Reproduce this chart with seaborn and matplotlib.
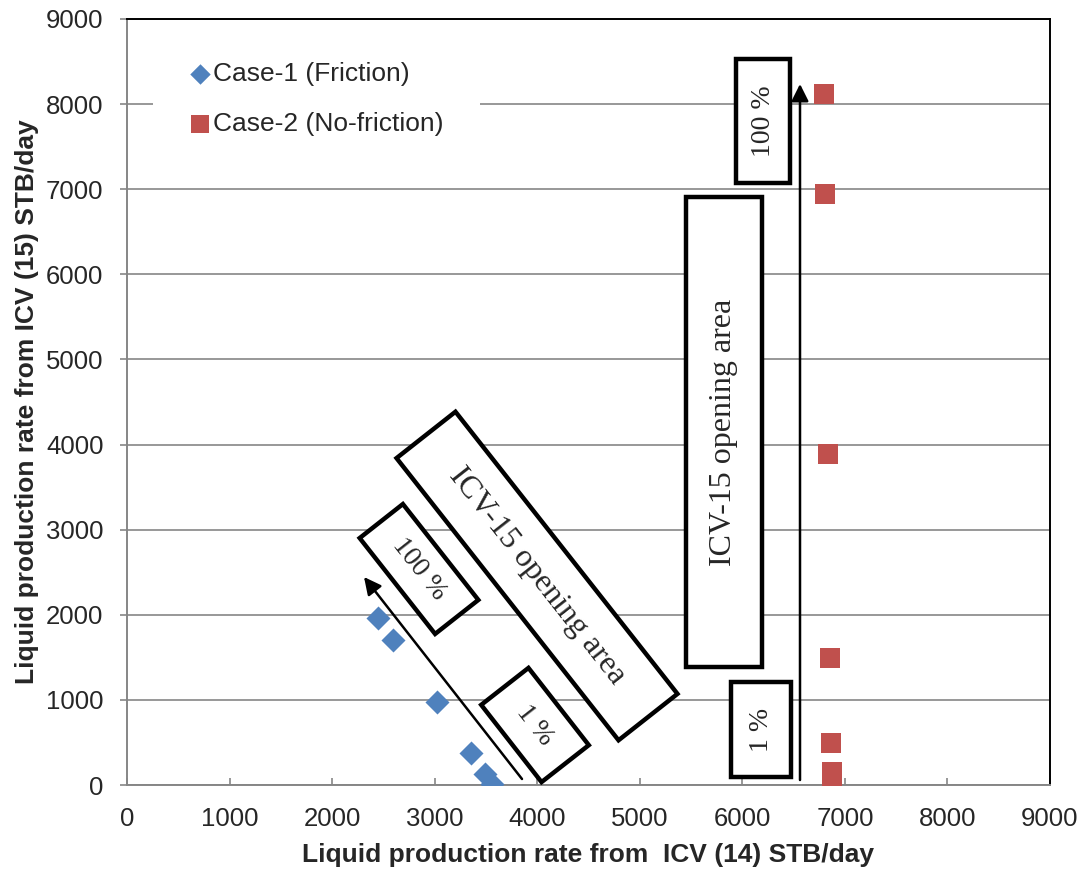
import matplotlib
matplotlib.use('Agg')
import matplotlib.pyplot as plt
import seaborn as sns
import pandas as pd
import numpy as np
from matplotlib.patches import Polygon

# ---- data ----
case1_x = [2446, 2593, 3021, 3353, 3489, 3557]
case1_y = [1962, 1704, 975, 376, 129, 12]
case2_x = [6793, 6803, 6832, 6852, 6862, 6871, 6871]
case2_y = [8120, 6945, 3890, 1492, 494, 153, 0]
case1_label = "Case-1 (Friction)"
case2_label = "Case-2 (No-friction)"
x_ticks = list(range(0, 10000, 1000))
y_ticks = list(range(0, 10000, 1000))
xlabel = "Liquid production rate from  ICV (14) STB/day"
ylabel = "Liquid production rate from ICV (15) STB/day"

BLUE = "#4F81BD"
RED = "#C0504D"
GRID = "#868686"

sns.set_theme(style="white")
plt.rcParams['font.family'] = ['Liberation Sans', 'DejaVu Sans']

W, H = 1089, 871
fig = plt.figure(figsize=(W / 100, H / 100), dpi=100)
ax = fig.add_axes([127 / W, 1 - 785 / H, (1050 - 127) / W, (785 - 19) / H])

df1 = pd.DataFrame({"x": case1_x, "y": case1_y})
df2 = pd.DataFrame({"x": case2_x, "y": case2_y})
sns.scatterplot(data=df1, x="x", y="y", marker="D", s=150, color=BLUE,
                linewidth=0, ax=ax, zorder=5, label=case1_label)
sns.scatterplot(data=df2, x="x", y="y", marker="s", s=215, color=RED,
                linewidth=0, ax=ax, zorder=5, label=case2_label)

ax.set_xlim(0, 9000)
ax.set_ylim(0, 9000)
ax.set_xticks(x_ticks)
ax.set_yticks(y_ticks)
ax.tick_params(axis='x', direction='in', length=5, width=1.2, color=GRID,
               labelsize=18.5, pad=16, bottom=True)
ax.tick_params(axis='y', direction='out', length=5, width=1.2, color=GRID,
               labelsize=18.5, pad=12, left=True)
ax.yaxis.grid(True, color=GRID, linewidth=1.2)
ax.xaxis.grid(False)
ax.set_axisbelow(True)
for s in ['left', 'bottom']:
    ax.spines[s].set_color(GRID)
    ax.spines[s].set_linewidth(1.4)
for s in ['top', 'right']:
    ax.spines[s].set_color('black')
    ax.spines[s].set_linewidth(1.4)

ax.set_xlabel(xlabel, fontsize=19, fontweight='bold')
ax.set_ylabel(ylabel, fontsize=19, fontweight='bold')
ax.xaxis.set_label_coords(0.5, -0.076)
ax.yaxis.set_label_coords(-0.095, 0.5)

leg = ax.legend(loc='upper left', bbox_to_anchor=(0.0282, 0.992),
                borderaxespad=0, frameon=True,
                fontsize=19, handletextpad=0.09, labelspacing=1.0,
                borderpad=1.38, markerscale=0.85, handlelength=0.8)
leg.get_frame().set_facecolor('white')
leg.get_frame().set_edgecolor('none')
leg.get_frame().set_alpha(1)
leg.get_frame().set_boxstyle('square', pad=0)


# ---- annotations in image-pixel space (y down) ----
def P(x, y):
    return (x / W, 1 - y / H)


def rot_box(cx, cy, length, width, ang):
    a = np.deg2rad(ang)
    u = np.array([np.cos(a), np.sin(a)]) * length / 2
    v = np.array([-np.sin(a), np.cos(a)]) * width / 2
    c = np.array([cx, cy])
    pts = [c - u - v, c + u - v, c + u + v, c - u + v]
    return [P(*p) for p in pts]


serif = ['Liberation Serif', 'DejaVu Serif']


def box(cx, cy, length, width, ang, text, size, rot):
    poly = Polygon(rot_box(cx, cy, length, width, ang), closed=True,
                   transform=fig.transFigure, facecolor='white',
                   edgecolor='black', linewidth=3.2, zorder=6, clip_on=False)
    ax.add_patch(poly)
    ax.text(*P(cx, cy), text, transform=fig.transFigure, rotation=rot,
            rotation_mode='anchor', ha='center', va='center',
            fontsize=size, family=serif, zorder=7)


# diagonal group
box(537, 576, 359, 75, 51.8, "ICV-15 opening area", 23, -51.8)
box(419, 569, 122, 55, 51.8, "100 %", 20, -51.8)
box(535, 725, 98, 60, 52.0, "1 %", 20, -52.0)
ax.annotate("", xy=P(364, 577), xytext=P(522, 779),
            xycoords='figure fraction', textcoords='figure fraction',
            arrowprops=dict(arrowstyle='-|>', color='black', lw=1.8,
                            mutation_scale=26, shrinkA=0, shrinkB=0),
            zorder=6)

# vertical group
box(763, 121, 124, 54, 90, "100 %", 20, 90)
box(724, 432, 470, 76, 90, "ICV-15 opening area", 23, 90)
box(761, 729.5, 95, 60, 90, "1 %", 20, 90)
ax.annotate("", xy=P(800, 84), xytext=P(800, 780),
            xycoords='figure fraction', textcoords='figure fraction',
            arrowprops=dict(arrowstyle='-|>', color='black', lw=1.8,
                            mutation_scale=26, shrinkA=0, shrinkB=0),
            zorder=6)

fig.savefig("out.png", dpi=100)
